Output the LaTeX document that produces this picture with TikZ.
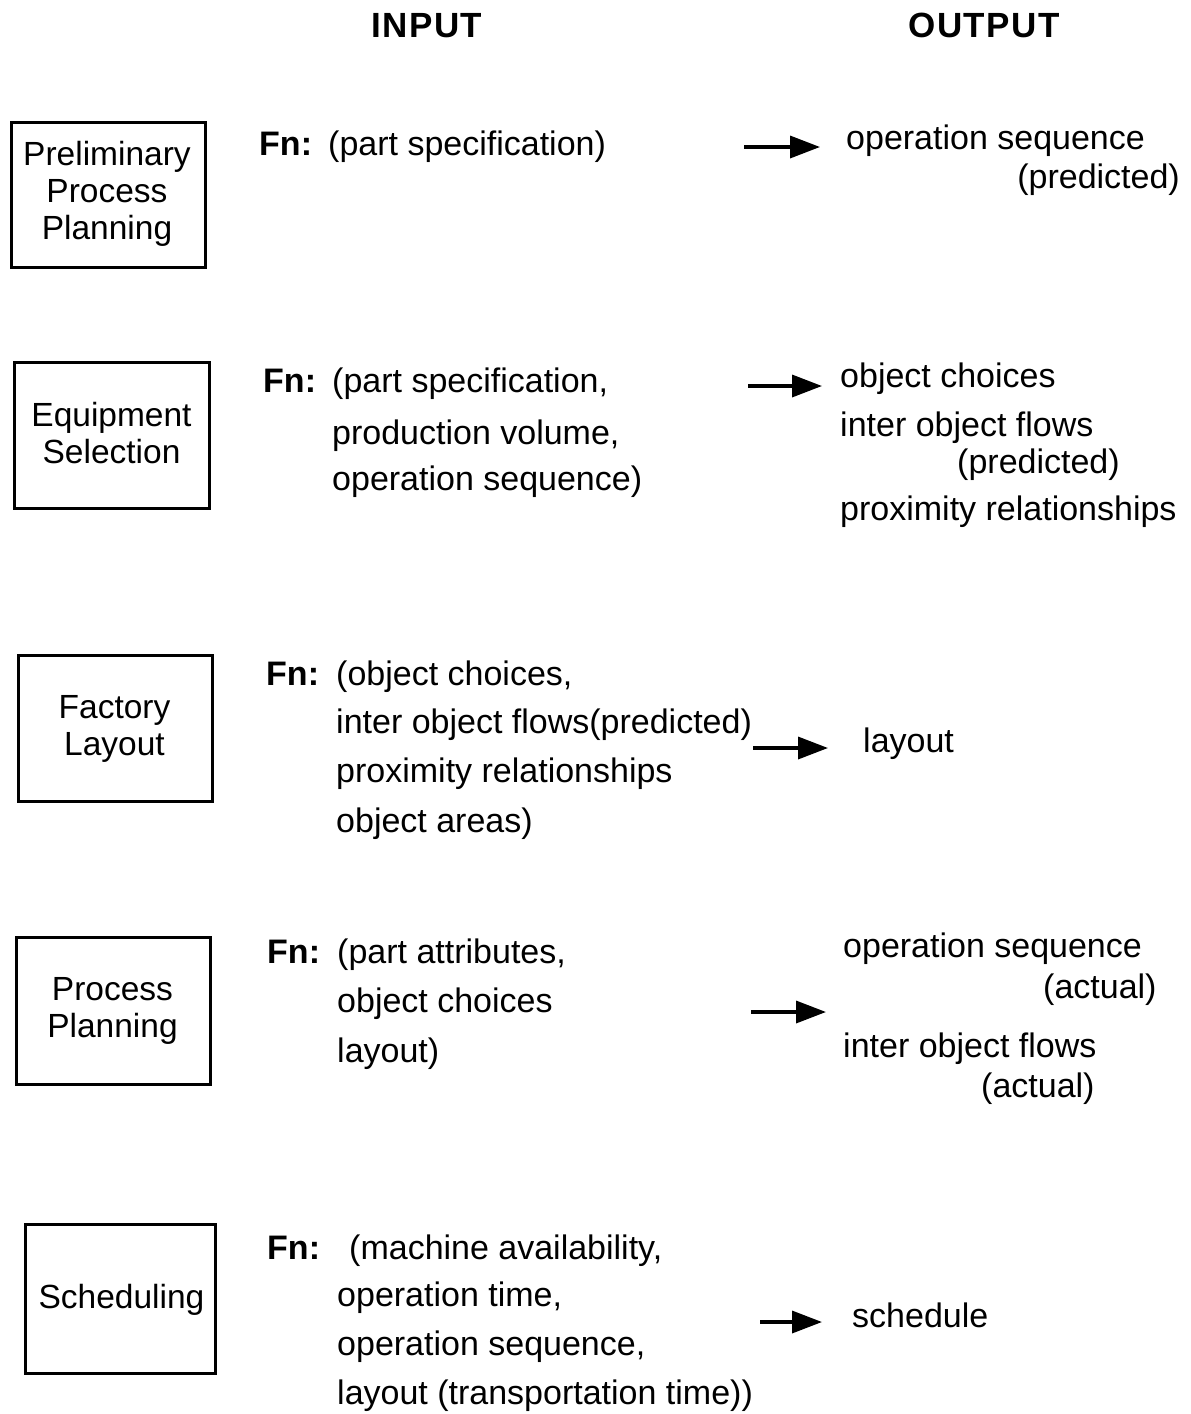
\documentclass[tikz,border=0pt]{standalone}
\usepackage{fontspec}
\setmainfont{Liberation Sans}
\usetikzlibrary{arrows.meta}
\begin{document}
\begin{tikzpicture}[x=1pt,y=-1pt,
  txt/.style={inner sep=0pt, anchor=base west, font=\fontsize{34}{37}\selectfont},
  txtr/.style={txt, anchor=base east},
  fn/.style={txt, font=\fontsize{34}{37}\selectfont\bfseries},
  head/.style={inner sep=0pt, anchor=base, font=\fontsize{35}{40}\selectfont\bfseries\addfontfeature{LetterSpace=4}},
  stage/.style={draw, line width=3pt, inner sep=0pt},
  stagetext/.style={inner sep=0pt, align=center, font=\fontsize{33.5}{37}\selectfont},
  flow/.style={line width=3.5pt, -{Triangle[length=30pt,width=22pt]}}]
\useasboundingbox[fill=white] (0,0) rectangle (1191,1414);

% column headings
\node[head] (hin)  at (427,37) {INPUT};
\node[head] (hout) at (984,37) {OUTPUT};

% stage boxes
\node[stage, minimum width=194pt, minimum height=145pt] (b1) at (108.5,195) {};
\node[stage, minimum width=195pt, minimum height=146pt] (b2) at (112,435.5) {};
\node[stage, minimum width=194pt, minimum height=146pt] (b3) at (115.5,728.5) {};
\node[stage, minimum width=194pt, minimum height=147pt] (b4) at (113.5,1011) {};
\node[stage, minimum width=190pt, minimum height=149pt] (b5) at (120.5,1299) {};

\node[stagetext] (t1) at (107,193.5) {Preliminary\\Process\\Planning};
\node[stagetext] (t2) at (111.5,433.5) {Equipment\\Selection};
\node[stagetext] (t3) at (114.5,728.5) {Factory\\Layout};
\node[stagetext] (t4) at (112.5,1010.5) {Process\\Planning};
\node[stagetext] (t5) at (121.5,1300) {Scheduling};

% inputs
\node[fn]  (f1)  at (259,155) {Fn:};
\node[txt] (i1a) at (328,155) {(part specification)};

\node[fn]  (f2)  at (263,392) {Fn:};
\node[txt] (i2a) at (332,392) {(part specification,};
\node[txt] (i2b) at (332,444) {production volume,};
\node[txt] (i2c) at (332,490) {operation sequence)};

\node[fn]  (f3)  at (266,685) {Fn:};
\node[txt] (i3a) at (336,685) {(object choices,};
\node[txt] (i3b) at (336,733) {inter object flows(predicted)};
\node[txt] (i3c) at (336,782) {proximity relationships};
\node[txt] (i3d) at (336,832) {object areas)};

\node[fn]  (f4)  at (267,963) {Fn:};
\node[txt] (i4a) at (337,963) {(part attributes,};
\node[txt] (i4b) at (337,1012) {object choices};
\node[txt] (i4c) at (337,1062) {layout)};

\node[fn]  (f5)  at (267,1259) {Fn:};
\node[txt] (i5a) at (349,1259) {(machine availability,};
\node[txt] (i5b) at (337,1306) {operation time,};
\node[txt] (i5c) at (337,1355) {operation sequence,};
\node[txt] (i5d) at (337,1404) {layout (transportation time))};

% outputs
\node[txt]  (o1a) at (846,149) {operation sequence};
\node[txtr] (o1b) at (1180,188) {(predicted)};

\node[txt] (o2a) at (840,387) {object choices};
\node[txt] (o2b) at (840,436) {inter object flows};
\node[txt] (o2c) at (957,473) {(predicted)};
\node[txt] (o2d) at (840,520) {proximity relationships};

\node[txt] (o3a) at (863,752) {layout};

\node[txt] (o4a) at (843,957) {operation sequence};
\node[txt] (o4b) at (1043,998) {(actual)};
\node[txt] (o4c) at (843,1057) {inter object flows};
\node[txt] (o4d) at (981,1097) {(actual)};

\node[txt] (o5a) at (852,1327) {schedule};

% arrows between input and output
\coordinate (a1s) at (744,147);  \coordinate (a1e) at (820,147);
\coordinate (a2s) at (748,386);  \coordinate (a2e) at (822,386);
\coordinate (a3s) at (753,748);  \coordinate (a3e) at (828,748);
\coordinate (a4s) at (751,1012); \coordinate (a4e) at (826,1012);
\coordinate (a5s) at (760,1322); \coordinate (a5e) at (822,1322);
\draw[flow] (a1s) -- (a1e);
\draw[flow] (a2s) -- (a2e);
\draw[flow] (a3s) -- (a3e);
\draw[flow] (a4s) -- (a4e);
\draw[flow] (a5s) -- (a5e);
\end{tikzpicture}
\end{document}
